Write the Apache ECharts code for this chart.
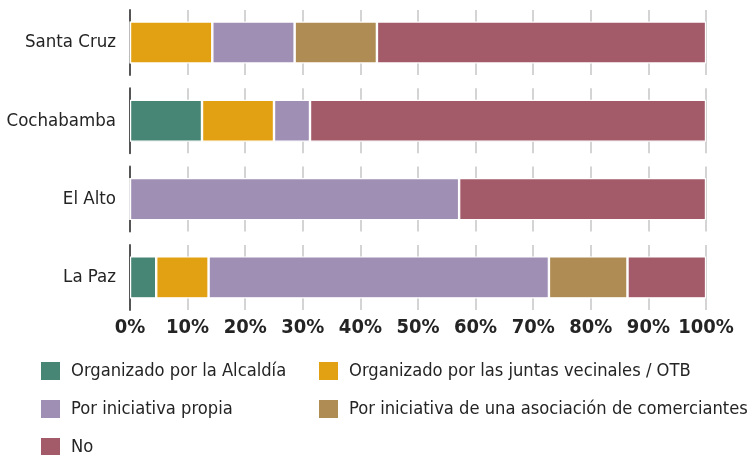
<!DOCTYPE html>
<html>
<head>
<meta charset="utf-8">
<script src="https://cdn.jsdelivr.net/npm/echarts@6/dist/echarts.min.js"></script>
<style>
  html, body { margin: 0; padding: 0; background: #fff; }
  #chart { width: 753px; height: 455px; }
</style>
</head>
<body>
<div id="chart"></div>
<script>
// Cities, drawn top to bottom, one panel each
const cities = ['Santa Cruz', 'Cochabamba', 'El Alto', 'La Paz'];

// Share of answers per city (%), same order as cities
const alcaldia     = [0,     12.5,  0,     4.55];
const juntas       = [14.29, 12.5,  0,     9.09];
const propia       = [14.29, 6.25,  57.14, 59.09];
const comerciantes = [14.29, 0,     0,     13.64];
const no           = [57.14, 68.75, 42.86, 13.64];

const seriesNames = [
  'Organizado por la Alcaldía',
  'Organizado por las juntas vecinales / OTB',
  'Por iniciativa propia',
  'Por iniciativa de una asociación de comerciantes',
  'No'
];
const seriesValues = [alcaldia, juntas, propia, comerciantes, no];
const colors = ['#478575', '#e2a013', '#9f8fb4', '#b08c55', '#a35a69'];

// Tick labels for the percentage axis
const tickValues = [0, 10, 20, 30, 40, 50, 60, 70, 80, 90, 100];

const FONT = '"DejaVu Sans Condensed", "DejaVu Sans", sans-serif';
const TEXT = '#242424';

const panelTop = 10, panelStep = 78.3, panelH = 65;

const grids = [], xAxes = [], yAxes = [], series = [];
cities.forEach((city, i) => {
  const last = i === cities.length - 1;
  grids.push({
    left: 130, right: 47, top: panelTop + panelStep * i, height: panelH,
    containLabel: false, outerBoundsMode: 'none'
  });
  xAxes.push({
    type: 'value', gridIndex: i, min: tickValues[0], max: tickValues[tickValues.length - 1], interval: 10,
    axisLine: { show: false }, axisTick: { show: false },
    splitLine: { show: true, lineStyle: { color: '#c6c6c6', width: 1.5 } },
    axisLabel: {
      show: last, formatter: v => v + '%', margin: 8,
      fontFamily: FONT, fontWeight: 'bold', fontSize: 20, color: TEXT
    }
  });
  yAxes.push({
    type: 'category', gridIndex: i, data: [city],
    axisLine: { show: true, lineStyle: { color: '#555', width: 2 } },
    axisTick: { show: false },
    axisLabel: { fontFamily: FONT, fontSize: 18.5, color: TEXT, margin: 14, padding: [6, 0, 0, 0] }
  });
  seriesNames.forEach((name, k) => {
    series.push({
      name, type: 'bar', stack: 'city' + i, xAxisIndex: i, yAxisIndex: i,
      barWidth: 42, data: [seriesValues[k][i]],
      itemStyle: { color: colors[k], borderColor: '#fff', borderWidth: 1.2 },
      emphasis: { disabled: true }
    });
  });
});

// One legend entry per slot: two columns, three rows
const legendSlots = [[39, 360], [317, 360], [39, 398], [317, 398], [39, 436]];
const legends = seriesNames.map((name, k) => ({
  left: legendSlots[k][0], top: legendSlots[k][1], padding: 0,
  data: [name], itemWidth: 21, itemHeight: 20, icon: 'rect', selectedMode: false,
  textStyle: { fontFamily: FONT, fontSize: 18.2, color: TEXT, padding: [0, 0, 0, 5] }
}));

const chart = echarts.init(document.getElementById('chart'));
chart.setOption({
  animation: false,
  color: colors,
  grid: grids,
  xAxis: xAxes,
  yAxis: yAxes,
  legend: legends,
  series
});
</script>
</body>
</html>
